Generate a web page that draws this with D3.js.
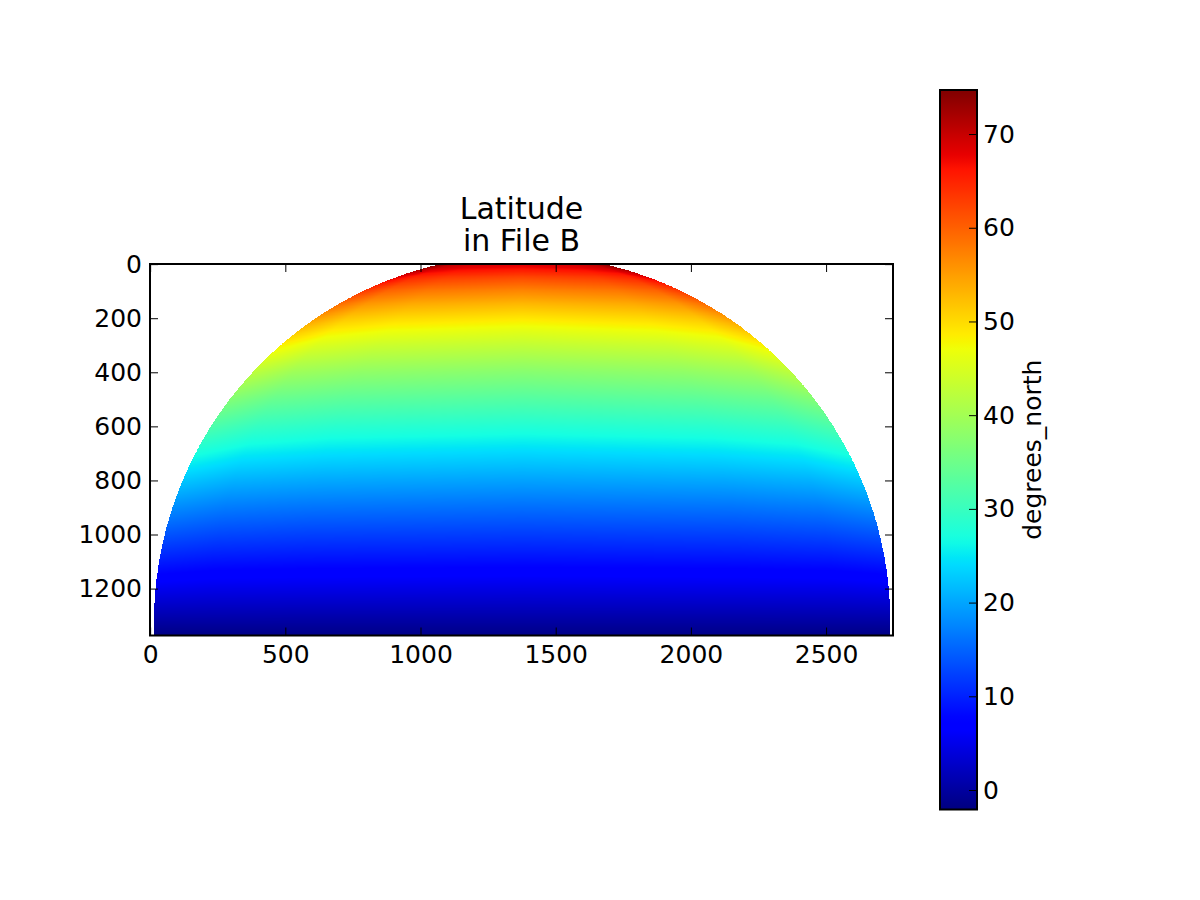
<!DOCTYPE html>
<html>
<head>
<meta charset="utf-8">
<script src="https://cdn.jsdelivr.net/npm/d3@7"></script>
<style>
body { margin: 0; background: #fff; }
text { font-family: "DejaVu Sans", sans-serif; fill: #000; }
</style>
</head>
<body>
<div id="canvas"></div>
<script>
// image grid size (columns x rows)
const nCols = 2748, nRows = 1374;

// disk outline (data units)
const diskCenterCol = 1376, diskCenterRow = 1328, diskRadius = 1362;

// latitude samples: rows, and fraction of the half width of the disk at that row
const gridRows = [0, 50, 100, 150, 200, 250, 300, 400, 500, 600, 700, 800, 900, 1000, 1100, 1200, 1300, 1373];
const gridFrac = [0, 0.6, 0.85, 1];
const latCenter = [68.8, 61.8, 56.8, 52.6, 49.0, 45.7, 42.8, 37.3, 32.5, 27.9, 23.7, 19.7, 15.8, 12.0, 8.3, 4.6, 1.0, -1.6];
const latMid    = [69.8, 62.9, 57.9, 53.7, 50.1, 46.8, 43.7, 38.2, 33.3, 28.6, 24.3, 20.2, 16.2, 12.3, 8.5, 4.8, 1.0, -1.6];
const latOuter  = [71.3, 64.5, 59.5, 55.3, 51.6, 48.3, 45.2, 39.5, 34.4, 29.7, 25.2, 20.9, 16.8, 12.8, 8.8, 4.9, 1.1, -1.7];
const latLimb   = [74.6, 68.1, 63.1, 58.8, 55.0, 51.5, 48.3, 42.3, 36.9, 31.9, 27.1, 22.5, 18.1, 13.8, 9.5, 5.3, 1.2, -1.8];

const latMin = -2.08, latMax = 74.70;

const xTicks = [0, 500, 1000, 1500, 2000, 2500];
const yTicks = [0, 200, 400, 600, 800, 1000, 1200];
const cbTicks = [0, 10, 20, 30, 40, 50, 60, 70];

const titleLines = ["Latitude", "in File B"];
const cbLabel = "degrees_north";

const plot = {left: 150, top: 264, right: 893, bottom: 635.5};
const cb = {left: 940, top: 90, right: 977, bottom: 809.5};

const svg = d3.select("#canvas")
    .append("svg")
        .attr("width", 1200)
        .attr("height", 900)
        .style("background-color", "white");

const xScale = d3.scaleLinear()
    .domain([-0.5, nCols - 0.5])
    .range([plot.left, plot.right]);

const yScale = d3.scaleLinear()
    .domain([-0.5, nRows - 0.5])
    .range([plot.top, plot.bottom]);

const cbScale = d3.scaleLinear()
    .domain([latMin, latMax])
    .range([cb.bottom, cb.top]);

// matplotlib "jet"
const jetR = d3.scaleLinear().domain([0, .35, .66, .89, 1]).range([0, 0, 1, 1, .5]).clamp(true);
const jetG = d3.scaleLinear().domain([0, .125, .375, .64, .91, 1]).range([0, 0, 1, 1, 0, 0]).clamp(true);
const jetB = d3.scaleLinear().domain([0, .11, .34, .65, 1]).range([.5, 1, 1, 0, 0]).clamp(true);
const norm = d3.scaleLinear().domain([latMin, latMax]).range([0, 1]).clamp(true);
const jet = v => [jetR(v), jetG(v), jetB(v)].map(c => Math.round(c * 255));

const table = [latCenter, latMid, latOuter, latLimb];
function latAt(row, f) {
    let k = Math.max(0, Math.min(gridRows.length - 2, d3.bisectRight(gridRows, row) - 1));
    let tr = Math.max(0, Math.min(1, (row - gridRows[k]) / (gridRows[k + 1] - gridRows[k])));
    let m = Math.max(0, Math.min(gridFrac.length - 2, d3.bisectRight(gridFrac, f) - 1));
    let tf = Math.max(0, Math.min(1, (f - gridFrac[m]) / (gridFrac[m + 1] - gridFrac[m])));
    const a = table[m][k] * (1 - tr) + table[m][k + 1] * tr;
    const b = table[m + 1][k] * (1 - tr) + table[m + 1][k + 1] * tr;
    return a * (1 - tf) + b * tf;
}

// raster image
const pw = Math.round(plot.right - plot.left), ph = Math.round(plot.bottom - plot.top);
const cnv = document.createElement("canvas");
cnv.width = pw; cnv.height = ph;
const ctx = cnv.getContext("2d");
const img = ctx.createImageData(pw, ph);
for (let j = 0; j < ph; j++) {
    const row = Math.round(yScale.invert(plot.top + j + 0.5));
    const dr = row - diskCenterRow;
    if (Math.abs(dr) >= diskRadius) continue;
    const hw = Math.sqrt(diskRadius * diskRadius - dr * dr);
    for (let i = 0; i < pw; i++) {
        const col = Math.round(xScale.invert(plot.left + i + 0.5));
        const dc = Math.abs(col - diskCenterCol);
        if (dc > hw) continue;
        const c = jet(norm(latAt(row, dc / hw)));
        const p = (j * pw + i) * 4;
        img.data[p] = c[0]; img.data[p + 1] = c[1]; img.data[p + 2] = c[2]; img.data[p + 3] = 255;
    }
}
ctx.putImageData(img, 0, 0);

svg.append("image")
    .attr("x", plot.left)
    .attr("y", plot.top)
    .attr("width", pw)
    .attr("height", ph)
    .attr("preserveAspectRatio", "none")
    .attr("href", cnv.toDataURL());

// axes, ticks inside on all four sides
const tickLen = 8;
const fmt = d3.format("d");
function styleAxis(g) {
    g.select(".domain").remove();
    g.selectAll(".tick line").attr("stroke", "#000").attr("stroke-width", 1);
    g.selectAll("text").style("font-size", "25px").attr("fill", "#000").attr("font-family", null);
}

svg.append("g")
    .attr("transform", "translate(0," + plot.bottom + ")")
    .call(d3.axisBottom(xScale).tickValues(xTicks).tickFormat(fmt).tickSize(-tickLen).tickPadding(10))
    .call(styleAxis);

svg.append("g")
    .attr("transform", "translate(0," + plot.top + ")")
    .call(d3.axisTop(xScale).tickValues(xTicks).tickSize(-tickLen).tickFormat(""))
    .call(styleAxis);

svg.append("g")
    .attr("transform", "translate(" + plot.left + ",0)")
    .call(d3.axisLeft(yScale).tickValues(yTicks).tickFormat(fmt).tickSize(-tickLen).tickPadding(8))
    .call(styleAxis);

svg.append("g")
    .attr("transform", "translate(" + plot.right + ",0)")
    .call(d3.axisRight(yScale).tickValues(yTicks).tickSize(-tickLen).tickFormat(""))
    .call(styleAxis);

svg.append("rect")
    .attr("x", plot.left)
    .attr("y", plot.top)
    .attr("width", plot.right - plot.left)
    .attr("height", plot.bottom - plot.top)
    .attr("fill", "none")
    .attr("stroke", "#000")
    .attr("stroke-width", 2);

svg.append("text")
    .attr("text-anchor", "middle")
    .style("font-size", "30px")
    .selectAll("tspan")
    .data(titleLines)
    .join("tspan")
        .attr("x", (plot.left + plot.right) / 2)
        .attr("y", (d, i) => 218.5 + i * 32.7)
        .text(d => d);

// colorbar
const grad = svg.append("defs").append("linearGradient")
    .attr("id", "jetgrad")
    .attr("x1", 0).attr("y1", 1).attr("x2", 0).attr("y2", 0);
grad.selectAll("stop")
    .data(d3.range(0, 1.0001, 0.01))
    .join("stop")
        .attr("offset", d => d)
        .attr("stop-color", d => "rgb(" + jet(d).join(",") + ")");

svg.append("rect")
    .attr("x", cb.left)
    .attr("y", cb.top)
    .attr("width", cb.right - cb.left)
    .attr("height", cb.bottom - cb.top)
    .attr("fill", "url(#jetgrad)");

svg.append("g")
    .attr("transform", "translate(" + cb.right + ",0)")
    .call(d3.axisRight(cbScale).tickValues(cbTicks).tickFormat(fmt).tickSize(-tickLen).tickPadding(6))
    .call(styleAxis);

svg.append("rect")
    .attr("x", cb.left)
    .attr("y", cb.top)
    .attr("width", cb.right - cb.left)
    .attr("height", cb.bottom - cb.top)
    .attr("fill", "none")
    .attr("stroke", "#000")
    .attr("stroke-width", 2);

svg.append("text")
    .attr("transform", "translate(1041," + (cb.top + cb.bottom) / 2 + ") rotate(-90)")
    .attr("text-anchor", "middle")
    .style("font-size", "25px")
    .text(cbLabel);
</script>
</body>
</html>
